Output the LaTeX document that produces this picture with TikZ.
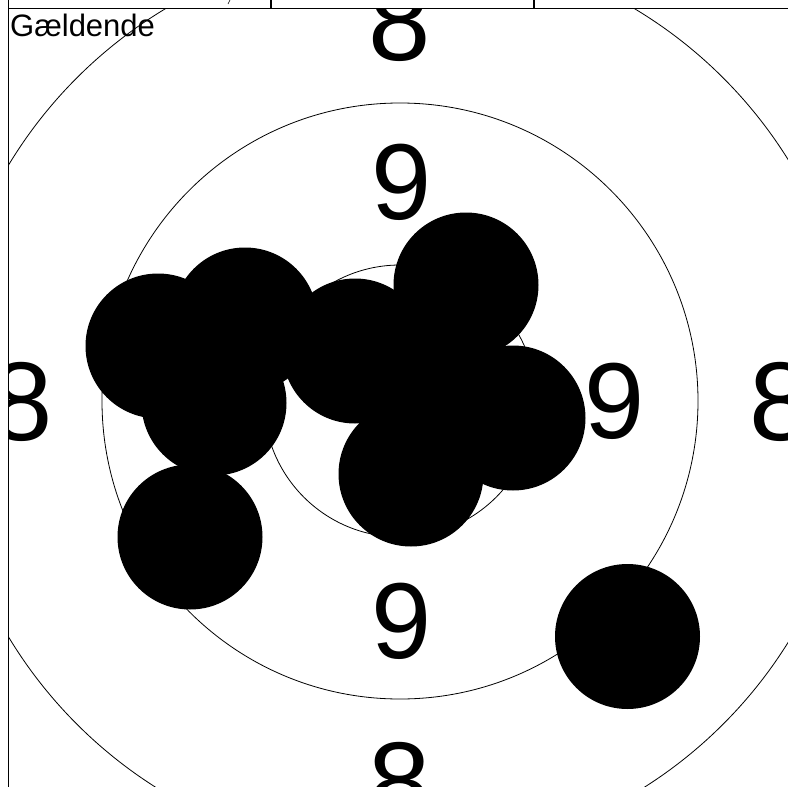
\documentclass[tikz,border=0pt]{standalone}
\usepackage{fontspec}
\setmainfont{Liberation Sans}
\begin{document}
\begin{tikzpicture}[x=1pt,y=-1pt,
  ring/.style={draw=black,line width=0.8pt},
  hole/.style={fill=black},
  tbl/.style={draw=black,line width=1.2pt},
  ninelbl/.style={inner sep=0pt,font=\fontsize{108}{108}\selectfont},
  eightlbl/.style={inner sep=0pt,font=\fontsize{112}{112}\selectfont}]
\useasboundingbox (0,0) rectangle (788,787);
\fill[white] (0,0) rectangle (788,787);
\begin{scope}
\clip (8,8) rectangle (788,787);
\coordinate (c) at (400,401);
\draw[ring] (c) circle (136);
\draw[ring] (c) circle (298);
\draw[ring] (c) circle (457);
\node[ninelbl] (n9t) at (401.5,182.5) {9};
\node[ninelbl] (n9b) at (401.5,621) {9};
\node[ninelbl] (n9r) at (615,401) {9};
\node[eightlbl] (n8t) at (400,21.5) {8};
\node[eightlbl] (n8b) at (400,782) {8};
\node[eightlbl] (n8l) at (22,402) {8};
\node[eightlbl] (n8r) at (781,402) {8};
\foreach \hx/\hy in {158/346, 245/320, 214/403, 190/537, 627.5/636.5, 466/285, 513/418, 355/351, 411/474, 430/390}
  \fill[hole] (\hx,\hy) circle (72.5);
\end{scope}
\draw[tbl] (8,8.5) -- (788,8.5);
\draw[tbl] (8.5,0) -- (8.5,787);
\draw[tbl] (271,0) -- (271,8.5);
\draw[tbl] (534,0) -- (534,8.5);
\draw[line width=0.6pt] (228,4) -- (230,0);
\node[anchor=base west,inner sep=0pt,font=\fontsize{31}{31}\selectfont] (title) at (10,36) {Gældende};
\end{tikzpicture}
\end{document}
